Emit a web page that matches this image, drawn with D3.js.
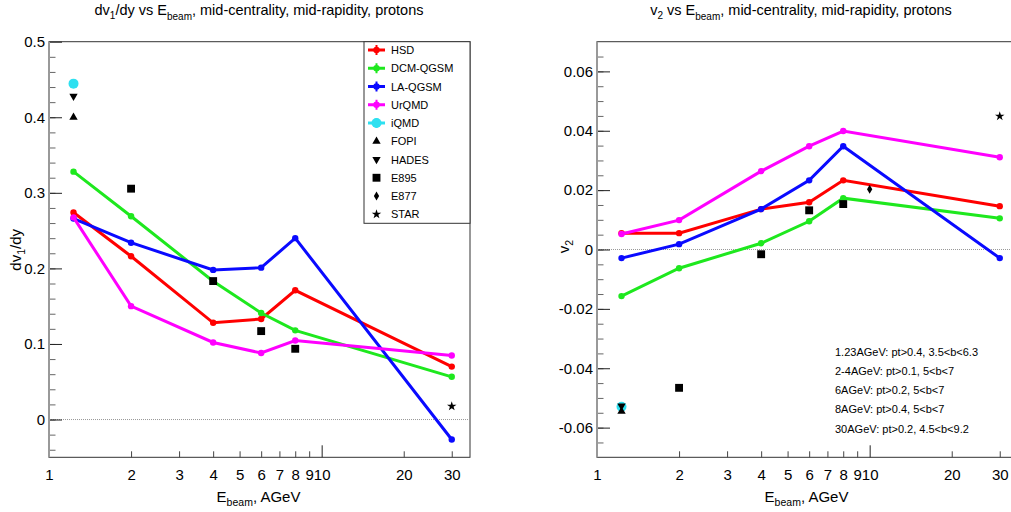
<!DOCTYPE html>
<html>
<head>
<meta charset="utf-8">
<script src="https://cdn.jsdelivr.net/npm/d3@7"></script>
<style>
  body { margin: 0; background: #fff; }
  svg { font-family: "Liberation Sans", Arial, sans-serif; display: block; }
</style>
</head>
<body>
<svg id="chart" width="1011" height="512"></svg>
<script>
// beam energies (AGeV) of the model points
const energies = [1.23, 2, 4, 6, 8, 30];
const models = ['HSD', 'DCM-QGSM', 'LA-QGSM', 'UrQMD'];
const modelColors = ['#ff0000', '#1ee81e', '#0a0aff', '#ff00ff'];

// dv1/dy
const dv1Hsd = [0.274, 0.216, 0.128, 0.133, 0.171, 0.070];
const dv1Dcm = [0.328, 0.269, 0.183, 0.141, 0.118, 0.0565];
const dv1La = [0.266, 0.234, 0.198, 0.201, 0.240, -0.0265];
const dv1Urqmd = [0.2675, 0.150, 0.102, 0.088, 0.1046, 0.0848];
const dv1Iqmd = [0.4445];
const dv1Fopi = [0.400];
const dv1Hades = [0.428];
const e895Energies = [2, 4, 6, 8];
const dv1E895 = [0.3055, 0.1832, 0.117, 0.0936];
const starEnergies = [30];
const dv1Star = [0.0176];

// v2
const v2Hsd = [0.0055, 0.0055, 0.0136, 0.0159, 0.0233, 0.0146];
const v2Dcm = [-0.0157, -0.0063, 0.0021, 0.0095, 0.0173, 0.0105];
const v2La = [-0.0029, 0.0018, 0.0136, 0.0233, 0.0348, -0.0029];
const v2Urqmd = [0.0052, 0.0099, 0.0264, 0.0348, 0.0399, 0.0311];
const v2Iqmd = [-0.053];
const v2Fopi = [-0.0545];
const v2Hades = [-0.0527];
const v2E895 = [-0.0466, -0.0016, 0.0132, 0.0153];
const e877Energies = [10];
const v2E877 = [0.0203];
const v2Star = [0.0449];

const lowEnergy = [1.23];
const xTickLabels = [1, 2, 3, 4, 5, 6, 7, 8, 9, 10, 20, 30];
const xMinorTicks = [2, 3, 4, 5, 6, 7, 8, 9, 20, 30];

const cutNotes = [
  '1.23AGeV: pt>0.4, 3.5<b<6.3',
  '2-4AGeV: pt>0.1, 5<b<7',
  '6AGeV: pt>0.2, 5<b<7',
  '8AGeV: pt>0.4, 5<b<7',
  '30AGeV: pt>0.2, 4.5<b<9.2'
];

const legendItems = [
  { name: 'HSD', type: 'model', color: modelColors[0] },
  { name: 'DCM-QGSM', type: 'model', color: modelColors[1] },
  { name: 'LA-QGSM', type: 'model', color: modelColors[2] },
  { name: 'UrQMD', type: 'model', color: modelColors[3] },
  { name: 'iQMD', type: 'iqmd', color: '#2ee0f0' },
  { name: 'FOPI', type: 'up' },
  { name: 'HADES', type: 'down' },
  { name: 'E895', type: 'square' },
  { name: 'E877', type: 'diamond' },
  { name: 'STAR', type: 'star' }
];

const svg = d3.select('#chart');

const drawMarker = (g, type, cx, cy, color) => {
  const c = color || '#000';
  if (type === 'iqmd') {
    g.append('circle').attr('cx', cx).attr('cy', cy).attr('r', 5).attr('fill', c);
    return;
  }
  const shapes = {
    up: [d3.symbolTriangle, 30, 0],
    down: [d3.symbolTriangle, 30, 180],
    square: [d3.symbolSquare, 62, 0],
    diamond: [d3.symbolDiamond, 24, 0],
    star: [d3.symbolStar, 28, 0]
  };
  const s = shapes[type];
  g.append('path')
    .attr('d', d3.symbol().type(s[0]).size(s[1])())
    .attr('transform', `translate(${cx},${cy}) rotate(${s[2]})`)
    .attr('fill', c);
};

const makePanel = (opt) => {
  const g = svg.append('g');
  const x = d3.scaleLog().domain([1, 35]).range([opt.x0, opt.x0 + 421]);
  const y = d3.scaleLinear().domain(opt.yDomain).range([457.3, 41.7]);

  // frame
  g.append('rect')
    .attr('x', opt.x0).attr('y', 41.7)
    .attr('width', 421).attr('height', 457.3 - 41.7)
    .attr('fill', 'none').attr('stroke', '#333').attr('stroke-width', 1);

  // zero line
  g.append('line')
    .attr('x1', opt.x0).attr('x2', opt.x0 + 421)
    .attr('y1', y(0)).attr('y2', y(0))
    .attr('stroke', '#999').attr('stroke-width', 1).attr('stroke-dasharray', '1,1');

  // y axis: minor, then major with labels
  g.append('g').attr('transform', `translate(${opt.x0},0)`)
    .call(d3.axisLeft(y).tickValues(opt.yMinor).tickSize(-6.5).tickFormat(''))
    .call(a => a.select('.domain').remove())
    .call(a => a.selectAll('line').attr('stroke', '#666'));
  g.append('g').attr('transform', `translate(${opt.x0},0)`)
    .call(d3.axisLeft(y).tickValues(opt.yMajor).tickSize(-13).tickPadding(4).tickFormat(opt.yFormat))
    .call(a => a.select('.domain').remove())
    .call(a => a.selectAll('line').attr('stroke', '#222'))
    .call(a => a.selectAll('text').attr('font-size', 15).attr('fill', '#000')
      .attr('font-family', '"Liberation Sans", Arial, sans-serif'));

  // x axis
  g.append('g').attr('transform', 'translate(0,457.3)')
    .call(d3.axisBottom(x).tickValues(xMinorTicks).tickSize(-6).tickFormat(''))
    .call(a => a.select('.domain').remove())
    .call(a => a.selectAll('line').attr('stroke', '#444'));
  g.append('g').attr('transform', 'translate(0,457.3)')
    .call(d3.axisBottom(x).tickValues([10]).tickSize(-12).tickFormat(''))
    .call(a => a.select('.domain').remove())
    .call(a => a.selectAll('line').attr('stroke', '#222'));
  g.append('g').attr('transform', 'translate(0,457.3)')
    .call(d3.axisBottom(x).tickValues(xTickLabels).tickSize(0).tickPadding(12).tickFormat(d3.format('d')))
    .call(a => a.select('.domain').remove())
    .call(a => a.selectAll('text').attr('font-size', 15).attr('fill', '#000')
      .attr('font-family', '"Liberation Sans", Arial, sans-serif'));

  // left axis line drawn grey and a bit heavier
  g.append('line')
    .attr('x1', opt.x0).attr('x2', opt.x0).attr('y1', 41.7).attr('y2', 457.3)
    .attr('stroke', '#999').attr('stroke-width', 2);

  // model curves
  opt.series.forEach((vals, i) => {
    const pts = energies.map((e, j) => [e, vals[j]]);
    g.append('path')
      .datum(pts)
      .attr('fill', 'none')
      .attr('stroke', modelColors[i])
      .attr('stroke-width', 3)
      .attr('d', d3.line().x(d => x(d[0])).y(d => y(d[1])));
    g.selectAll(null).data(pts).enter().append('circle')
      .attr('cx', d => x(d[0])).attr('cy', d => y(d[1]))
      .attr('r', 3.2).attr('fill', modelColors[i]);
  });

  // single points / experiments
  opt.points.forEach(p => {
    p.xs.forEach((e, j) => drawMarker(g, p.type, x(e), y(p.ys[j]), p.color));
  });

  // axis titles
  const xt = g.append('text').attr('x', opt.x0 + 209.5).attr('y', 502)
    .attr('text-anchor', 'middle').attr('font-size', 15);
  xt.append('tspan').text('E');
  xt.append('tspan').attr('font-size', 10.5).attr('dy', 4).text('beam');
  xt.append('tspan').attr('dy', -4).text(', AGeV');

  return { x, y, g };
};

// left panel
const left = makePanel({
  x0: 49,
  yDomain: [-0.05, 0.5],
  yMajor: [0, 0.1, 0.2, 0.3, 0.4, 0.5],
  yMinor: d3.range(-4, 50, 2).map(d => d / 100),
  yFormat: d => d === 0 ? '0' : String(+d.toFixed(2)),
  series: [dv1Hsd, dv1Dcm, dv1La, dv1Urqmd],
  points: [
    { type: 'iqmd', xs: lowEnergy, ys: dv1Iqmd, color: '#2ee0f0' },
    { type: 'up', xs: lowEnergy, ys: dv1Fopi },
    { type: 'down', xs: lowEnergy, ys: dv1Hades },
    { type: 'square', xs: e895Energies, ys: dv1E895 },
    { type: 'star', xs: starEnergies, ys: dv1Star }
  ]
});

// right panel
const right = makePanel({
  x0: 597,
  yDomain: [-0.07, 0.07],
  yMajor: [-0.06, -0.04, -0.02, 0, 0.02, 0.04, 0.06],
  yMinor: d3.range(-13, 14, 1).map(d => d * 0.005),
  yFormat: d => Math.abs(d) < 1e-9 ? '0' : d.toFixed(2),
  series: [v2Hsd, v2Dcm, v2La, v2Urqmd],
  points: [
    { type: 'iqmd', xs: lowEnergy, ys: v2Iqmd, color: '#2ee0f0' },
    { type: 'up', xs: lowEnergy, ys: v2Fopi },
    { type: 'down', xs: lowEnergy, ys: v2Hades },
    { type: 'square', xs: e895Energies, ys: v2E895 },
    { type: 'diamond', xs: e877Energies, ys: v2E877 },
    { type: 'star', xs: starEnergies, ys: v2Star }
  ]
});

// titles
const t1 = svg.append('text').attr('x', 259).attr('y', 15)
  .attr('text-anchor', 'middle').attr('font-size', 14.5);
t1.append('tspan').text('dv');
t1.append('tspan').attr('font-size', 10).attr('dy', 4).text('1');
t1.append('tspan').attr('dy', -4).text('/dy vs E');
t1.append('tspan').attr('font-size', 10).attr('dy', 5).text('beam');
t1.append('tspan').attr('dy', -5).text(', mid-centrality, mid-rapidity, protons');

const t2 = svg.append('text').attr('x', 801).attr('y', 15)
  .attr('text-anchor', 'middle').attr('font-size', 14.5);
t2.append('tspan').text('v');
t2.append('tspan').attr('font-size', 10).attr('dy', 4).text('2');
t2.append('tspan').attr('dy', -4).text(' vs E');
t2.append('tspan').attr('font-size', 10).attr('dy', 5).text('beam');
t2.append('tspan').attr('dy', -5).text(', mid-centrality, mid-rapidity, protons');

// y titles
const yt1 = svg.append('text')
  .attr('transform', 'translate(21,229) rotate(-90)')
  .attr('text-anchor', 'end').attr('font-size', 15);
yt1.append('tspan').text('dv');
yt1.append('tspan').attr('font-size', 10.5).attr('dy', 4).text('1');
yt1.append('tspan').attr('dy', -4).text('/dy');

const yt2 = svg.append('text')
  .attr('transform', 'translate(569,240) rotate(-90)')
  .attr('text-anchor', 'end').attr('font-size', 15);
yt2.append('tspan').text('v');
yt2.append('tspan').attr('font-size', 10.5).attr('dy', 4).text('2');

// legend
const lg = svg.append('g');
lg.append('rect')
  .attr('x', 364).attr('y', 41.7).attr('width', 106).attr('height', 223.3 - 41.7)
  .attr('fill', '#fff').attr('stroke', '#333').attr('stroke-width', 1);
legendItems.forEach((item, i) => {
  const cy = 50 + i * 18.25;
  if (item.type === 'model' || item.type === 'iqmd') {
    lg.append('line').attr('x1', 368).attr('x2', 385).attr('y1', cy).attr('y2', cy)
      .attr('stroke', item.color).attr('stroke-width', 3);
    lg.append('line').attr('x1', 376.5).attr('x2', 376.5).attr('y1', cy - 5).attr('y2', cy + 5)
      .attr('stroke', item.color).attr('stroke-width', 2);
    if (item.type === 'iqmd') drawMarker(lg, 'iqmd', 376.5, cy, item.color);
    else lg.append('circle').attr('cx', 376.5).attr('cy', cy).attr('r', 3.2).attr('fill', item.color);
  } else {
    drawMarker(lg, item.type, 376.5, cy);
  }
  lg.append('text').attr('x', 391).attr('y', cy + 4).attr('font-size', 11).text(item.name);
});

// cut notes on the v2 panel
svg.append('g').selectAll('text').data(cutNotes).enter().append('text')
  .attr('x', 835).attr('y', (d, i) => 355.5 + i * 19.25)
  .attr('font-size', 11).text(d => d);
</script>
</body>
</html>
